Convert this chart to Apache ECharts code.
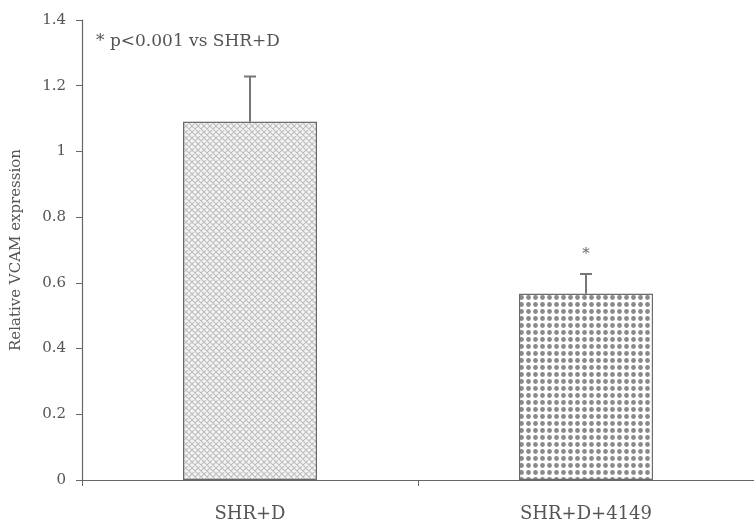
<!DOCTYPE html>
<html><head><meta charset="utf-8">
<script src="https://cdn.jsdelivr.net/npm/echarts@6/dist/echarts.min.js"></script>
<style>html,body{margin:0;padding:0;background:#fff}#c{width:754px;height:520px}</style>
</head><body><div id="c"></div>
<script>
const categories = ['SHR+D', 'SHR+D+4149'];
const means = [1.09, 0.567];
const errors = [0.138, 0.06];
const sigMarks = ['', '*'];
const yTicks = [0, 0.2, 0.4, 0.6, 0.8, 1, 1.2, 1.4];

function hatchPattern() {
  const c = document.createElement('canvas');
  c.width = 6; c.height = 6;
  const g = c.getContext('2d');
  g.fillStyle = '#f4f4f4'; g.fillRect(0,0,6,6);
  g.strokeStyle = '#bdbdbd'; g.lineWidth = 1.1;
  g.beginPath();
  for (let k = -6; k <= 12; k += 6) {
    g.moveTo(k, 0); g.lineTo(k + 6, 6);
    g.moveTo(k + 6, 0); g.lineTo(k, 6);
  }
  g.stroke();
  return c;
}
function dotPattern() {
  const c = document.createElement('canvas');
  c.width = 7; c.height = 7;
  const g = c.getContext('2d');
  g.fillStyle = '#ffffff'; g.fillRect(0,0,7,7);
  g.fillStyle = '#8a8a8a';
  g.beginPath(); g.arc(3.5, 3.5, 2.4, 0, Math.PI*2); g.fill();
  return c;
}
const patterns = [hatchPattern(), dotPattern()];
const font = '"DejaVu Serif", "Liberation Serif", serif';

const chart = echarts.init(document.getElementById('c'), null, {renderer: 'canvas'});
chart.setOption({
  animation: false,
  backgroundColor: '#fff',
  grid: {left: 82, right: 0, top: 20, bottom: 40, outerBoundsMode: 'none', containLabel: false},
  graphic: [{
    type: 'text', left: 96, top: 33,
    style: {text: '* p<0.001 vs SHR+D', font: '17px ' + font, fill: '#555'}
  }],
  xAxis: {
    type: 'category', data: categories,
    axisLine: {lineStyle: {color: '#666', width: 1.2}},
    axisTick: {show: true, length: 6, lineStyle: {color: '#666'}},
    axisLabel: {color: '#555', fontFamily: font, fontSize: 18, margin: 25}
  },
  yAxis: {
    type: 'value', min: 0, max: 1.4, interval: 0.2,
    name: 'Relative VCAM expression', nameLocation: 'middle', nameGap: 58,
    nameTextStyle: {color: '#555', fontFamily: font, fontSize: 15},
    splitLine: {show: false},
    axisLine: {show: true, lineStyle: {color: '#666', width: 1.2}},
    axisTick: {show: true, length: 6, lineStyle: {color: '#666'}},
    axisLabel: {color: '#555', fontFamily: font, fontSize: 15, margin: 16,
      formatter: v => { const t = yTicks.find(x => Math.abs(x - v) < 1e-9); return t === undefined ? '' : String(t); }}
  },
  series: [{
    type: 'bar', barWidth: 134,
    data: means.map((v, i) => ({value: v, itemStyle: {color: {image: patterns[i], repeat: 'repeat'}}})),
    itemStyle: {borderColor: '#6a6a6a', borderWidth: 1.2}
  }, {
    type: 'custom',
    data: means.map((v, i) => [i, v, v + errors[i]]),
    renderItem: (params, api) => {
      const base = api.coord([api.value(0), api.value(1)]);
      const top = api.coord([api.value(0), api.value(2)]);
      const idx = params.dataIndex;
      const style = {stroke: '#777', lineWidth: 2};
      const children = [
        {type: 'line', shape: {x1: base[0], y1: base[1], x2: top[0], y2: top[1]}, style},
        {type: 'line', shape: {x1: top[0] - 6, y1: top[1], x2: top[0] + 6, y2: top[1]}, style}
      ];
      if (sigMarks[idx]) {
        children.push({type: 'text', x: top[0], y: top[1] - 20,
          style: {text: sigMarks[idx], font: '15px ' + font, fill: '#666', align: 'center', verticalAlign: 'middle'}});
      }
      return {type: 'group', children};
    },
    z: 5
  }]
});
</script></body></html>
